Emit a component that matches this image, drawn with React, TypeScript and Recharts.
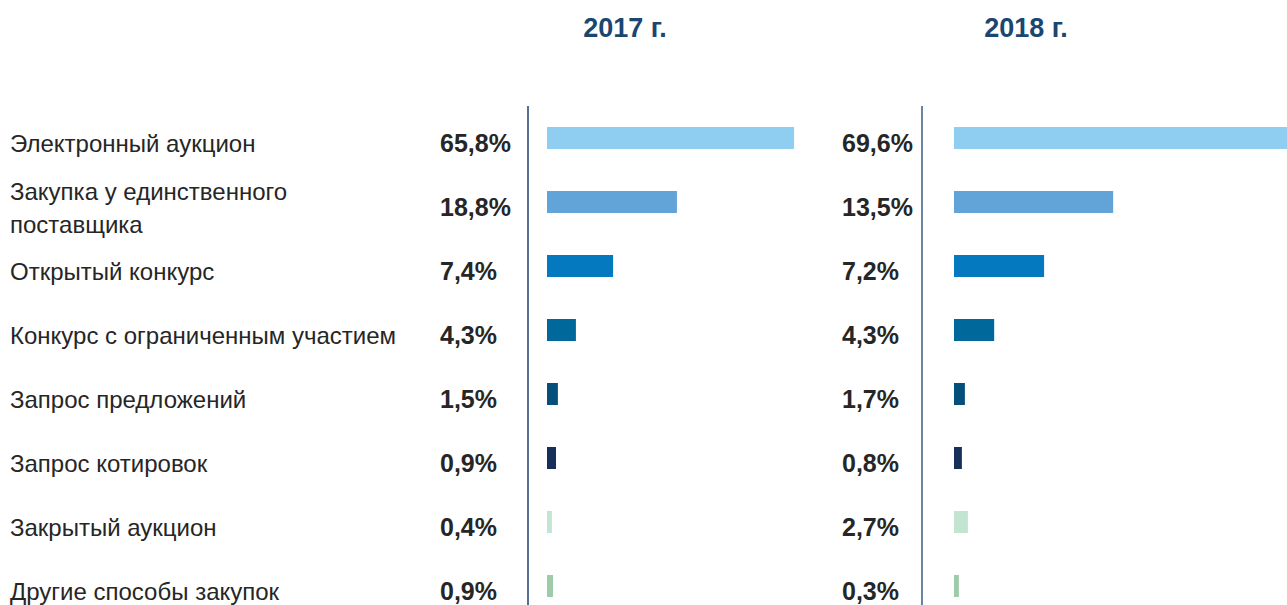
import React from 'react';
import { BarChart, Bar, XAxis, YAxis, Cell } from 'recharts';

const methods = [
  'Электронный аукцион',
  'Закупка у единственного\nпоставщика',
  'Открытый конкурс',
  'Конкурс с ограниченным участием',
  'Запрос предложений',
  'Запрос котировок',
  'Закрытый аукцион',
  'Другие способы закупок',
];

// shares shown as labels, %
const share2017 = [65.8, 18.8, 7.4, 4.3, 1.5, 0.9, 0.4, 0.9];
const share2018 = [69.6, 13.5, 7.2, 4.3, 1.7, 0.8, 2.7, 0.3];

// bar lengths as drawn in the source (not to scale with the labels)
const barLen2017 = [65.8, 34.6, 17.6, 7.7, 2.9, 2.4, 1.3, 1.6];
const barLen2018 = [88.7, 42.4, 24.0, 10.7, 2.9, 2.1, 3.7, 1.3];

const years = ['2017 г.', '2018 г.'];

const COLORS = ['#8FCEF0', '#62A3D8', '#0479C0', '#01689C', '#054F7B', '#17305A', '#C3E4D0', '#9ECBAA'];

const rows = methods.map((name, i) => ({
  name,
  s2017: share2017[i],
  s2018: share2018[i],
  len2017: barLen2017[i],
  len2018: barLen2018[i],
}));

const FONT = '"Liberation Sans", Arial, sans-serif';
const fmt = (v: number) => v.toFixed(1).replace('.', ',') + '%';
const TEXT_DY = 5;

const LeftTick = (props: any) => {
  const { y, payload, index } = props;
  const lines = String(payload.value).split('\n');
  const lh = 33;
  const yc = y + TEXT_DY;
  const y0 = yc - ((lines.length - 1) * lh) / 2;
  return (
    <g>
      <text x={10} y={y0} fontFamily={FONT} fontSize={24} fill="#262626" dominantBaseline="central">
        {lines.map((l, k) => (
          <tspan key={k} x={10} y={y0 + k * lh}>{l}</tspan>
        ))}
      </text>
      <text x={440} y={yc} fontFamily={FONT} fontSize={25} fontWeight="bold" fill="#262626" dominantBaseline="central">
        {fmt(share2017[index])}
      </text>
    </g>
  );
};

const RightTick = (props: any) => {
  const { y, index } = props;
  return (
    <text x={22} y={y + TEXT_DY} fontFamily={FONT} fontSize={25} fontWeight="bold" fill="#262626" dominantBaseline="central">
      {fmt(share2018[index])}
    </text>
  );
};

export default function App() {
  const margin = { top: 106, right: 0, bottom: 22, left: 0 };
  return (
    <div style={{ position: 'absolute', left: 0, top: 0, width: 1287, height: 605, overflow: 'hidden', background: '#fff' }}>
      {years.map((t, i) => (
        <div
          key={t}
          style={{
            position: 'absolute',
            left: i === 0 ? 525 : 926,
            width: 200,
            top: 11,
            textAlign: 'center',
            fontFamily: FONT,
            fontWeight: 'bold',
            fontSize: 27,
            color: '#1B4670',
            lineHeight: '34px',
          }}
        >
          {t}
        </div>
      ))}
      <div style={{ position: 'absolute', left: 0, top: 0 }}>
        <BarChart width={820} height={640} data={rows} layout="vertical" margin={margin}>
          <XAxis type="number" hide domain={[0, 72.7]} padding={{ left: 19, right: 0 }} allowDataOverflow />
          <YAxis
            type="category"
            dataKey="name"
            width={528}
            tickLine={false}
            axisLine={{ stroke: '#1C3F6E', strokeWidth: 1.5 }}
            tick={<LeftTick />}
            interval={0}
          />
          <Bar dataKey="len2017" barSize={22} isAnimationActive={false}>
            {rows.map((r, i) => (
              <Cell key={`a-${i}`} fill={COLORS[i]} />
            ))}
          </Bar>
        </BarChart>
      </div>
      <div style={{ position: 'absolute', left: 820, top: 0 }}>
        <BarChart width={467} height={640} data={rows} layout="vertical" margin={margin}>
          <XAxis type="number" hide domain={[0, 88.7]} padding={{ left: 32, right: 0 }} allowDataOverflow />
          <YAxis
            type="category"
            dataKey="name"
            width={102}
            tickLine={false}
            axisLine={{ stroke: '#6A84A4', strokeWidth: 2 }}
            tick={<RightTick />}
            interval={0}
          />
          <Bar dataKey="len2018" barSize={22} isAnimationActive={false}>
            {rows.map((r, i) => (
              <Cell key={`b-${i}`} fill={COLORS[i]} />
            ))}
          </Bar>
        </BarChart>
      </div>
    </div>
  );
}
